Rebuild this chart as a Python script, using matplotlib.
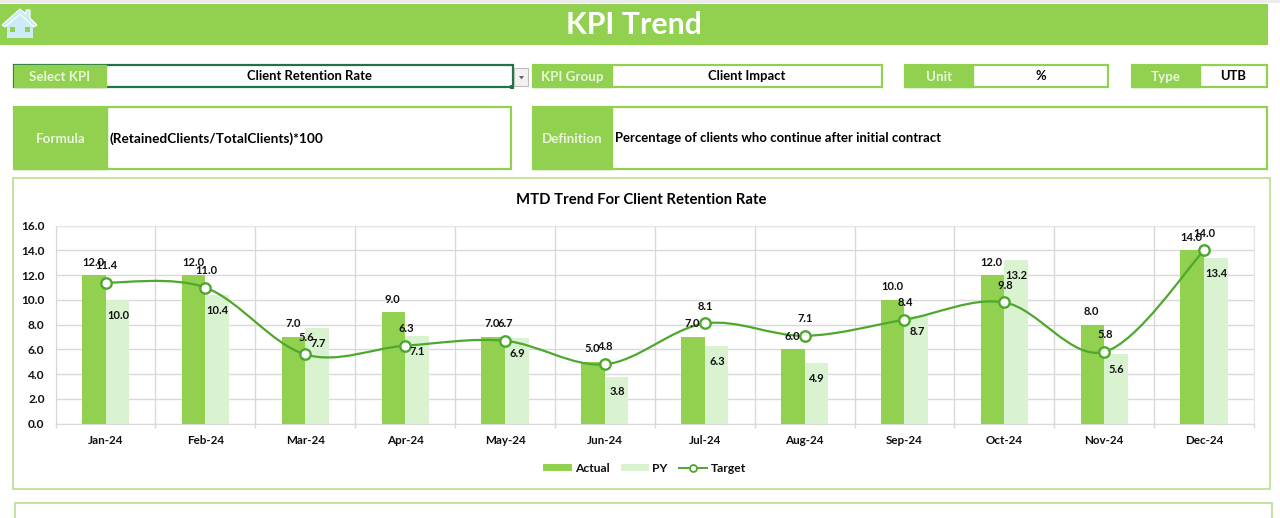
import matplotlib
matplotlib.use("Agg")
import matplotlib.pyplot as plt
import numpy as np
from matplotlib.patches import Rectangle, Polygon, PathPatch
from matplotlib.path import Path
from matplotlib.lines import Line2D

months = ["Jan-24","Feb-24","Mar-24","Apr-24","May-24","Jun-24","Jul-24","Aug-24","Sep-24","Oct-24","Nov-24","Dec-24"]
actual = [12.0,12.0,7.0,9.0,7.0,5.0,7.0,6.0,10.0,12.0,8.0,14.0]
py = [10.0,10.4,7.7,7.1,6.9,3.8,6.3,4.9,8.7,13.2,5.6,13.4]
target = [11.4,11.0,5.6,6.3,6.7,4.8,8.1,7.1,8.4,9.8,5.8,14.0]
yticks = [0,2,4,6,8,10,12,14,16]

GREEN = "#92D050"
PALE = "#D9F2D0"
LINE = "#4EA72E"
BORDER = "#92D050"
SOFT = "#B5E08F"
GRID = "#D9D9D9"
FONT = "Lato"
plt.rcParams["font.family"] = [FONT, "DejaVu Sans"]
plt.rcParams["font.weight"] = "bold"

W, H = 1280, 518
fig = plt.figure(figsize=(W/100, H/100), dpi=100, facecolor="white")
bg = fig.add_axes([0, 0, 1, 1])
bg.set_xlim(0, W); bg.set_ylim(H, 0); bg.axis("off")

def rect(x0, y0, x1, y1, fc="white", ec="none", lw=0, z=1):
    bg.add_patch(Rectangle((x0, y0), x1-x0, y1-y0, fc=fc, ec=ec, lw=lw, zorder=z))

def field(x0, x1, x2, y0, y1, label, value, center=True, ec=BORDER, vfs=9.4):
    rect(x0, y0, x2, y1, fc="white", ec=ec, lw=1.6)
    rect(x0, y0, x1, y1, fc=GREEN, ec=GREEN, lw=1, z=2)
    ym = (y0+y1)/2 + 1
    bg.text((x0+x1)/2, ym, label, color="#EAF6DC", fontsize=9.6, ha="center", va="center", zorder=3)
    if center:
        bg.text((x1+x2)/2, ym-0.5, value, color="black", fontsize=vfs, ha="center", va="center", zorder=3)
    else:
        bg.text(x1+3, ym-0.5, value, color="black", fontsize=vfs, ha="left", va="center", zorder=3)

rect(0, 0, W, 3, fc="#ECECEC")
rect(0, 4, 1268, 44.5, fc=GREEN)
bg.text(634, 25, "KPI Trend", color="white", fontsize=21.8, ha="center", va="center")

# house icon
bg.add_patch(Polygon([[7,23],[33,23],[33,38],[7,38]], closed=True, fc="#CDEBF7", ec="none", zorder=3))
bg.add_patch(Polygon([[2,25],[20,9],[26,14],[26,10],[30,10],[30,18],[37,25],[34,27],[20,14],[5,27]], closed=True, fc="#CDEBF7", ec="white", lw=0.8, zorder=4))
bg.add_patch(Polygon([[8,25],[20,14],[32,25]], closed=True, fc="#CDEBF7", ec="none", zorder=3))
rect(10, 27, 15, 32, fc=GREEN, z=5)
rect(25, 27, 30, 32, fc=GREEN, z=5)

field(14, 106, 513, 65, 87, "Select KPI", "Client Retention Rate", ec="#217346")
rect(514, 68, 528, 86, fc="#F2F2F2", ec="#BDBDBD", lw=0.8)
bg.add_patch(Polygon([[519,76],[524,76],[521.5,79.5]], closed=True, fc="#666666", ec="none", zorder=3))
rect(510, 85, 514, 89, fc="#217346", z=4)
field(533, 612, 882, 65, 87, "KPI Group", "Client Impact")
field(905, 973, 1108, 65, 87, "Unit", "%")
field(1132, 1200, 1267, 65, 87, "Type", "UTB")
field(14, 107, 511, 107, 169, "Formula", "(RetainedClients/TotalClients)*100", center=False, vfs=9.8)
field(533, 612, 1267, 107, 169, "Definition", "Percentage of clients who continue after initial contract", center=False, vfs=9.45)

rect(13, 178, 1269.5, 488.5, fc="white", ec=SOFT, lw=1.2)
rect(15, 503, 1272, 530, fc="white", ec=SOFT, lw=1.2)
bg.text(641, 200, "MTD Trend For Client Retention Rate", color="black", fontsize=10.7, ha="center", va="center")

# chart axes, in pixel placement
L, R, T, B = 55.6, 1254, 225.7, 423.7
ax = fig.add_axes([L/W, 1-B/H, (R-L)/W, (B-T)/H], facecolor="none")
x = np.arange(len(months))
bw = 0.236
ax.bar(x-bw/2, actual, bw, color=GREEN, label="Actual", zorder=3)
ax.bar(x+bw/2, py, bw, color=PALE, label="PY", zorder=3)

# smoothed target line (Catmull-Rom through the data)
pts = np.column_stack([x, target]).astype(float)
verts = [pts[0]]; codes = [Path.MOVETO]
for i in range(len(pts)-1):
    p0 = pts[max(i-1, 0)]; p1 = pts[i]; p2 = pts[i+1]; p3 = pts[min(i+2, len(pts)-1)]
    verts += [p1+(p2-p0)/6, p2-(p3-p1)/6, p2]
    codes += [Path.CURVE4]*3
ax.add_patch(PathPatch(Path(verts, codes), fc="none", ec=LINE, lw=1.6, zorder=4, clip_on=False))
ax.plot(x, target, ls="none", marker="o", ms=7.5, mfc="white", mec=LINE, mew=1.7, zorder=5, clip_on=False)

ax.set_xlim(-0.5, 11.5)
ax.set_ylim(0, 16)
ax.set_yticks(yticks)
ax.set_yticklabels([f"{v:.1f}" for v in yticks], fontsize=8.6, color="#111111")
ax.set_xticks(x)
ax.set_xticklabels(months, fontsize=8.4, color="#111111")
ax.set_xticks(np.arange(-0.5, 12, 1), minor=True)
ax.tick_params(axis="y", length=0, pad=8)
ax.tick_params(axis="x", which="major", length=0, pad=8)
ax.tick_params(axis="x", which="minor", length=3.2, width=1, color=GRID)
ax.grid(True, which="major", axis="y", color=GRID, lw=1, zorder=0)
ax.grid(True, which="minor", axis="x", color=GRID, lw=1, zorder=0)
for s in ["top", "left", "right"]:
    ax.spines[s].set_color("#E6E6E6" if s != "left" else GRID)
ax.spines["bottom"].set_color(GRID)

lab = dict(fontsize=8, color="#111111", ha="center", va="center", zorder=6, annotation_clip=False)
for i in x:
    ax.annotate(f"{actual[i]:.1f}", (i-bw/2, actual[i]), xytext=(-0.5, 9.5), textcoords="offset points", **lab)
    ax.annotate(f"{py[i]:.1f}", (i+bw/2, py[i]), xytext=(0.5, -11), textcoords="offset points", **lab)
    ax.annotate(f"{target[i]:.1f}", (i, target[i]), xytext=(0.5, 12.5), textcoords="offset points", **lab)

handles = [Rectangle((0,0),1,1,fc=GREEN), Rectangle((0,0),1,1,fc=PALE),
           Line2D([0],[0],color=LINE,lw=1.4,marker="o",ms=5,mfc="white",mec=LINE,mew=1.3)]
fig.legend(handles, ["Actual","PY","Target"], loc="center", bbox_to_anchor=(644.5/W, 1-468/H), ncol=3,
           frameon=False, fontsize=8.7, handlelength=2.35, handleheight=0.5, columnspacing=0.95, handletextpad=0.25,
           labelcolor="#111111")

fig.savefig("out.png", dpi=100)
